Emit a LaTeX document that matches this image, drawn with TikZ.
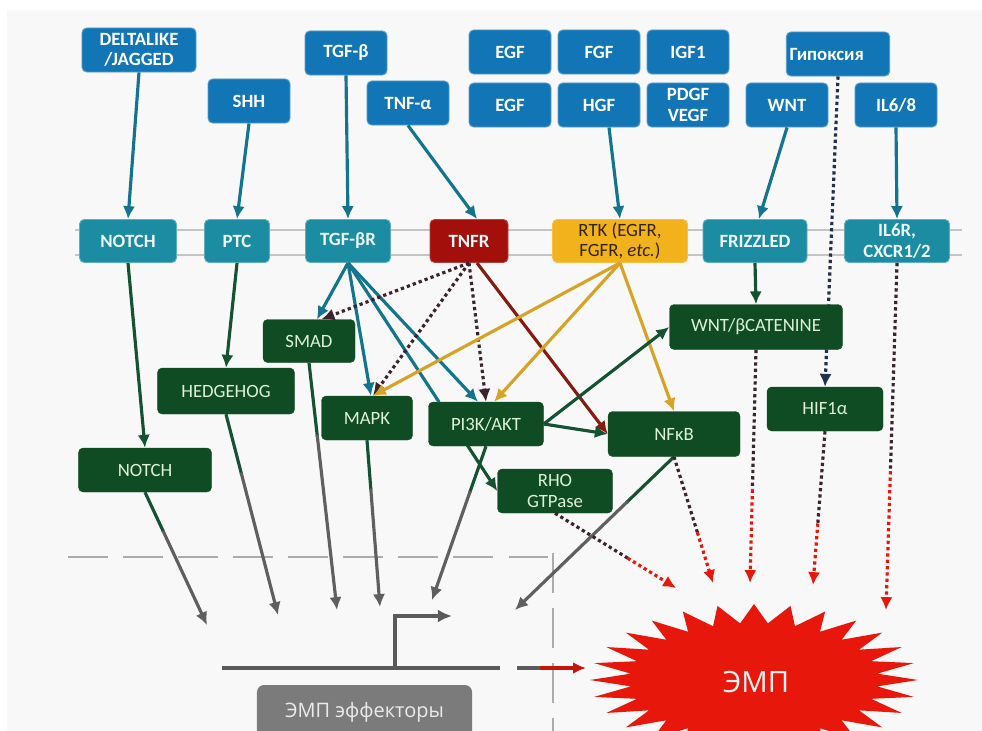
\documentclass[tikz,border=0pt]{standalone}
\usepackage{fontspec}
\setmainfont{Carlito}
\newfontfamily\empfont{Open Sans}
\usetikzlibrary{arrows.meta}
\usetikzlibrary{calc}
\definecolor{ligblue}{HTML}{1275B6}
\definecolor{recteal}{HTML}{1B8CA1}
\definecolor{tnfred}{HTML}{A3100C}
\definecolor{rtkgold}{HTML}{F1B21B}
\definecolor{effgreen}{HTML}{0F4B23}
\definecolor{txtgreen}{HTML}{DDF2D6}
\definecolor{tealarr}{HTML}{13758D}
\definecolor{darkarr}{HTML}{155232}
\definecolor{grayarr}{HTML}{5E5F5E}
\definecolor{goldarr}{HTML}{D6A326}
\definecolor{redarr}{HTML}{861B12}
\definecolor{dotdark}{HTML}{3B2430}
\definecolor{dotnavy}{HTML}{1F3050}
\definecolor{empred}{HTML}{E8170C}
\definecolor{membr}{HTML}{C4C4C4}
\definecolor{dashgray}{HTML}{ABABAB}
\definecolor{genegray}{HTML}{5A5A5A}
\definecolor{boxgray}{HTML}{7B7B7B}
\definecolor{bg}{HTML}{F8F8F8}
\tikzset{%
	sbox/.style={rounded corners=4pt,minimum height=1.32cm,align=center,inner sep=2pt,font=\fontsize{16}{17.5}\selectfont\bfseries},
	ligand/.style={sbox,fill=ligblue,draw=ligblue!70!white,line width=0.8pt,text=white},
	receptor/.style={sbox,minimum height=1.29cm,fill=recteal,draw=recteal!70!white,line width=0.8pt,text=white!92!recteal},
	effector/.style={sbox,fill=effgreen,draw=effgreen,text=txtgreen,font=\fontsize{16}{17.5}\selectfont},
	arr/.style={-{Latex[length=11pt,width=10.5pt]},line width=2.7pt},
	dotarr/.style={arr,dash pattern=on 2.8pt off 2.6pt},
	gapdash/.style={dashgray,line width=2.5pt,dash pattern=on 34pt off 13pt},
}
\begin{document}
\begin{tikzpicture}[x=0.03cm,y=-0.03cm]
	\useasboundingbox (0,0) rectangle (982,731);
	\clip (0,0) rectangle (982,731);
	\fill[white] (0,0) rectangle (982,731);
	\fill[bg] (7,10) rectangle (982,731);

	%membrana
	\draw[membr,line width=2.5pt] (75,230) -- (962,230);
	\draw[membr,line width=2.5pt] (75,255) -- (962,255);

	%razdeliteli
	\draw[gapdash] (68,557) -- (548,557);
	\draw[gapdash] (553,553) -- (553,740);

	%ligandy
	\node[ligand,minimum width=3.42cm] (dll) at (139,50) {DELTALIKE\\/JAGGED};
	\node[ligand,minimum width=2.46cm] (shh) at (249,101) {SHH};
	\node[ligand,minimum width=2.46cm] (tgfb) at (346,53) {TGF-β};
	\node[ligand,minimum width=2.46cm] (tnfa) at (408,103) {TNF-α};
	\node[ligand,minimum width=2.46cm] (egfa) at (510,52) {EGF};
	\node[ligand,minimum width=2.46cm] (fgf) at (599,52) {FGF};
	\node[ligand,minimum width=2.46cm] (igf) at (688,52) {IGF1};
	\node[ligand,minimum width=2.46cm] (egfb) at (510,105) {EGF};
	\node[ligand,minimum width=2.46cm] (hgf) at (599,105) {HGF};
	\node[ligand,minimum width=2.46cm] (pdgf) at (688,105) {PDGF\\VEGF};
	\node[ligand,minimum width=3.09cm,text width=2.9cm,inner xsep=0.1cm,align=left] (hyp) at (838,54) {Гипоксия};
	\node[ligand,minimum width=2.46cm] (wnt) at (787,105) {WNT};
	\node[ligand,minimum width=2.46cm] (il) at (896,105) {IL6/8};

	%receptory
	\node[receptor,minimum width=2.91cm] (notchr) at (128,241) {NOTCH};
	\node[receptor,minimum width=1.95cm] (ptc) at (237,241) {PTC};
	\node[receptor,minimum width=2.55cm] (tgfbr) at (348,241) {TGF-βR};
	\node[receptor,minimum width=2.34cm,fill=tnfred,draw=tnfred!80!white] (tnfr) at (469,241) {TNFR};
	\node[receptor,minimum width=4.05cm,fill=rtkgold,draw=rtkgold!80!white,text=black!80!rtkgold,font=\fontsize{16}{17.5}\selectfont] (rtk) at (620,241) {RTK (EGFR,\\FGFR, \textit{etc.})};
	\node[receptor,minimum width=3.12cm] (frz) at (755,241) {FRIZZLED};
	\node[receptor,minimum width=3.15cm] (il6r) at (897,241) {IL6R,\\CXCR1/2};

	%effektory
	\node[effector,minimum width=2.76cm,minimum height=1.29cm] (smad) at (309,341) {SMAD};
	\node[effector,minimum width=4.11cm,minimum height=1.38cm] (hh) at (226,391) {HEDGEHOG};
	\node[effector,minimum width=3.99cm] (notchg) at (145,470) {NOTCH};
	\node[effector,minimum width=2.73cm] (mapk) at (367,418) {MAPK};
	\node[effector,minimum width=3.45cm] (pik) at (486,424) {PI3K/AKT};
	\node[effector,minimum width=3.45cm] (rho) at (555,491) {RHO\\GTPase};
	\node[effector,minimum width=3.96cm,minimum height=1.35cm] (nfkb) at (674,434) {NFκB};
	\node[effector,minimum width=5.19cm,minimum height=1.35cm] (wntc) at (756,327) {WNT/βCATENINE};
	\node[effector,minimum width=3.48cm] (hif) at (825,409) {HIF1α};

	%ligand -> receptor
	\draw[arr,tealarr] (dll.south) -- (notchr.north);
	\draw[arr,tealarr] (shh.south) -- (ptc.north);
	\draw[arr,tealarr] (tgfb.south) -- (tgfbr.north);
	\draw[arr,tealarr] (tnfa.south) -- (tnfr.70);
	\draw[arr,tealarr] ($(hgf.south)+(10,0)$) -- (rtk.north);
	\draw[arr,tealarr] (wnt.south) -- (frz.80);
	\draw[arr,tealarr] (il.south) -- (il6r.north);
	\draw[dotarr,-,dotnavy] (hyp.south) -- ($(hyp.south)!0.735!(hif.north)$);
	\draw[dotarr,dotnavy] ($(hyp.south)!0.88!(hif.north)$) -- (hif.north);

	%receptor -> effektor
	\draw[arr,darkarr] (notchr.south) -- (notchg.north);
	\draw[arr,darkarr] (ptc.south) -- (hh.north);
	\draw[arr,darkarr] (frz.south) -- (wntc.north);
	\draw[arr,tealarr] (tgfbr.south) -- (smad.70);
	\draw[arr,tealarr] (tgfbr.south) -- (mapk.80);
	\draw[arr,tealarr] (tgfbr.south) -- (pik.110);
	\draw[line width=2.7pt,tealarr] (tgfbr.south) -- ($(tgfbr.south)!0.61!(rho.west)$);
	\draw[arr,darkarr] ($(tgfbr.south)!0.8!(rho.west)$) -- (rho.west);
	\draw[dotarr,dotdark] (tnfr.south) -- (smad.60);
	\draw[dotarr,dotdark] (tnfr.south) -- (mapk.75);
	\draw[dotarr,dotdark] (tnfr.south) -- (pik.north);
	\draw[arr,redarr] (tnfr.290) -- (nfkb.west);
	\draw[arr,goldarr] (rtk.south) -- (mapk.75);
	\draw[arr,goldarr] (rtk.south) -- (pik.70);
	\draw[arr,goldarr] (rtk.south) -- (nfkb.north);
	\draw[arr,darkarr] (pik.east) -- (wntc.west);
	\draw[arr,darkarr] (pik.east) -- (nfkb.west);

	%k genu
	\coordinate (t1) at (207,625);
	\coordinate (t2) at (278,615);
	\coordinate (t3) at (337,610);
	\coordinate (t4) at (380,607);
	\coordinate (t5) at (432,600);
	\coordinate (t6) at (515,610);
	\foreach \s/\e in {notchg/t1,hh/t2,smad/t3,mapk/t4,pik/t5,nfkb/t6}{
		\draw[line width=2.7pt,darkarr] (\s.south) -- ($(\s.south)!0.3!(\e)$);
		\draw[arr,grayarr] ($(\s.south)!0.29!(\e)$) -- (\e);
	}

	%k EMP
	\coordinate (e1) at (676,588);
	\coordinate (e2) at (713,583);
	\coordinate (e3) at (750,583);
	\coordinate (e4) at (813,585);
	\coordinate (e5) at (886,610);
	\foreach \s/\e in {rho/e1,nfkb/e2,wntc/e3,hif/e4,il6r/e5}{
		\draw[dotarr,-,dotdark] (\s.south) -- ($(\s.south)!0.6!(\e)$);
		\draw[dotarr,empred] ($(\s.south)!0.6!(\e)$) -- (\e);
	}

	%gen
	\coordinate (gl) at (222,668);
	\coordinate (gr) at (500,668);
	\coordinate (tss) at (395,668);
	\coordinate (tssend) at (452,616);
	\draw[genegray,line width=3.5pt] (gl) -- (gr);
	\draw[genegray,line width=3.5pt,-{Latex[length=12pt,width=11pt]}] (tss) |- (tssend);
	\coordinate (ra) at (517,668);
	\coordinate (rm) at (540,668);
	\coordinate (rb) at (586,668);
	\draw[genegray,line width=3pt] (ra) -- (rm);
	\draw[empred!85!black,line width=3pt,-{Latex[length=11pt,width=10pt]}] (rm) -- (rb);

	\node[rounded corners=6pt,fill=boxgray,minimum width=6.45cm,minimum height=1.62cm,text=white!92!black,font=\empfont\fontsize{17}{19}\selectfont] (eff) at (364.5,712) {ЭМП эффекторы};

	%EMP
	\fill[empred] (918,680) \foreach \k in {1,...,28}{ -- ({754+124*cos((2*\k-1)*180/28)},{680+57*sin((2*\k-1)*180/28)}) -- ({754+164*cos(\k*360/28)},{680+76*sin(\k*360/28)}) } -- cycle;
	\node[text=white!95!red,font=\empfont\fontsize{25}{27}\selectfont] (emp) at (756,682) {ЭМП};
\end{tikzpicture}
\end{document}
